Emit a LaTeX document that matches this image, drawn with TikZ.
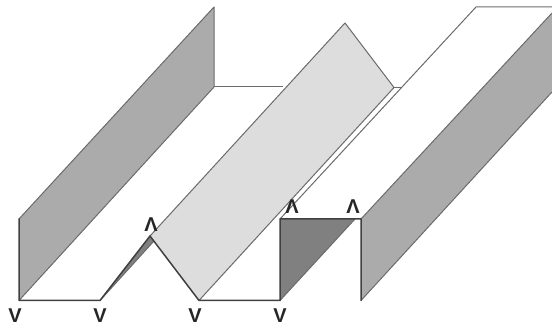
\documentclass[tikz,border=0pt]{standalone}
\usepackage{fontspec}
\setmainfont{Liberation Sans}
\definecolor{wallgray}{gray}{0.67}
\definecolor{panelgray}{gray}{0.865}
\definecolor{darkgray2}{gray}{0.5}
\definecolor{edgegray}{gray}{0.42}
\definecolor{creasegray}{gray}{0.25}
\tikzset{
  thinedge/.style={draw=edgegray,line width=1pt,line join=round},
  crease/.style={draw=creasegray,line width=1.5pt,line cap=round,line join=round},
  foldmark/.style={font=\bfseries\fontsize{20}{20}\selectfont,text=black!85,inner sep=0pt,anchor=center}
}
\begin{document}
\begin{tikzpicture}[x=1pt,y=-1pt]
\useasboundingbox (0,0) rectangle (552,328);
\coordinate (A) at (19,300.5);
\coordinate (Atop) at (19,219);
\coordinate (Aback) at (214,87);
\coordinate (Atopback) at (214,7);
\coordinate (B) at (100,300.5);
\coordinate (C) at (150,236);
\coordinate (Cs) at (154,241);
\coordinate (Cback) at (345,23);
\coordinate (D) at (199,300.5);
\coordinate (Dback) at (394,87.5);
\coordinate (Dgap) at (401,87.5);
\coordinate (E) at (280,300.5);
\coordinate (F) at (280,219);
\coordinate (Fback) at (476,7);
\coordinate (Tri) at (355,219);
\coordinate (G) at (361,219);
\coordinate (H) at (361,300.5);
\coordinate (Gback) at (552,13);
\coordinate (Gright) at (552,7);
\coordinate (Hback) at (552,92);
% faces
\fill[wallgray] (A) -- (Atop) -- (Atopback) -- (Aback) -- cycle;
\fill[panelgray] (C) -- (Cback) -- (Dback) -- (D) -- cycle;
\fill[darkgray2] (B) -- (C) -- (Cs) -- cycle;
\fill[darkgray2] (E) -- (F) -- (Tri) -- cycle;
\fill[wallgray] (G) -- (H) -- (Hback) -- (Gback) -- cycle;
% thin edges
\draw[thinedge] (A) -- (Aback) -- (Atopback) -- (Atop);
\draw[thinedge] (Aback) -- (283,87);
\draw[thinedge] (C) -- (Cback) -- (Dback) -- (D);
\draw[thinedge] (Dback) -- (Dgap);
\draw[thinedge] (B) -- (Cs);
\draw[thinedge] (E) -- (Tri);
\draw[thinedge] (F) -- (Fback) -- (Gright);
\draw[thinedge] (G) -- (Gback);
\draw[thinedge] (H) -- (Hback);
% creases
\draw[crease] (Atop) -- (A) -- (B) -- (C) -- (D) -- (E) -- (F) -- (G) -- (H);
% labels
\node[foldmark] (v1) at (15,316) {V};
\node[foldmark] (v2) at (100,316) {V};
\node[foldmark] (v3) at (195,316) {V};
\node[foldmark] (v4) at (280,316) {V};
\node[foldmark] (l1) at (151,225) {Λ};
\node[foldmark] (l2) at (292,207) {Λ};
\node[foldmark] (l3) at (353,207) {Λ};
\end{tikzpicture}
\end{document}
